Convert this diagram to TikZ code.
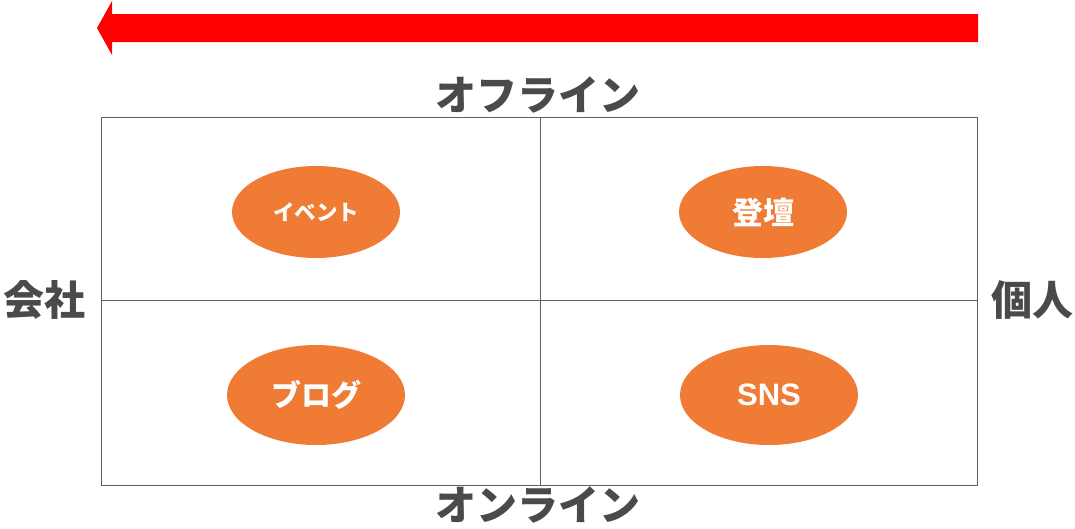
\documentclass[tikz,border=0pt]{standalone}
\usepackage{fontspec}
\setmainfont{Liberation Sans}
\newfontfamily\cjk{Noto Sans CJK JP}
\usetikzlibrary{shapes.geometric}
\definecolor{ora}{HTML}{F07B35}
\definecolor{lbl}{HTML}{4A4A4A}
\definecolor{grid}{HTML}{606060}
\tikzset{
  blob/.style={ellipse, fill=ora, draw=none, text=white, font=\cjk\bfseries, inner sep=0pt},
  axislbl/.style={text=lbl, font=\cjk\bfseries\fontsize{41}{42}\selectfont, inner sep=0pt},
  gridline/.style={draw=grid, line width=1pt}
}
\begin{document}
\begin{tikzpicture}[x=1pt,y=-1pt]
\useasboundingbox (0,0) rectangle (1075,528);
% arrow
\fill[red] (978,14) -- (112,14) -- (112,1) -- (97,28) -- (112,55) -- (112,42) -- (978,42) -- cycle;
% grid
\draw[gridline] (101,117) rectangle (977,485);
\coordinate (tm) at (540,117);
\coordinate (bm) at (540,485);
\coordinate (lm) at (101,300);
\coordinate (rm) at (977,300);
\draw[gridline] (tm) -- (bm);
\draw[gridline] (lm) -- (rm);
% labels
\node[axislbl] (off) at (538,95) {オフライン};
\node[axislbl] (on) at (538,505) {オンライン};
\node[axislbl] (co) at (44,300) {会社};
\node[axislbl] (ind) at (1032,300) {個人};
% ellipses
\node[blob, minimum width=168pt, minimum height=92pt, font=\cjk\bfseries\fontsize{21.5}{23}\selectfont] (ev) at (316,212) {イベント};
\node[blob, minimum width=168pt, minimum height=92pt, font=\cjk\bfseries\fontsize{31}{32}\selectfont] (tw) at (763,212) {登壇};
\node[blob, minimum width=178pt, minimum height=100pt, font=\cjk\bfseries\fontsize{30}{31}\selectfont] (bl) at (316,395) {ブログ};
\node[blob, minimum width=178pt, minimum height=100pt, font=\bfseries\fontsize{31}{32}\selectfont] (sns) at (769,395) {SNS};
\end{tikzpicture}
\end{document}
